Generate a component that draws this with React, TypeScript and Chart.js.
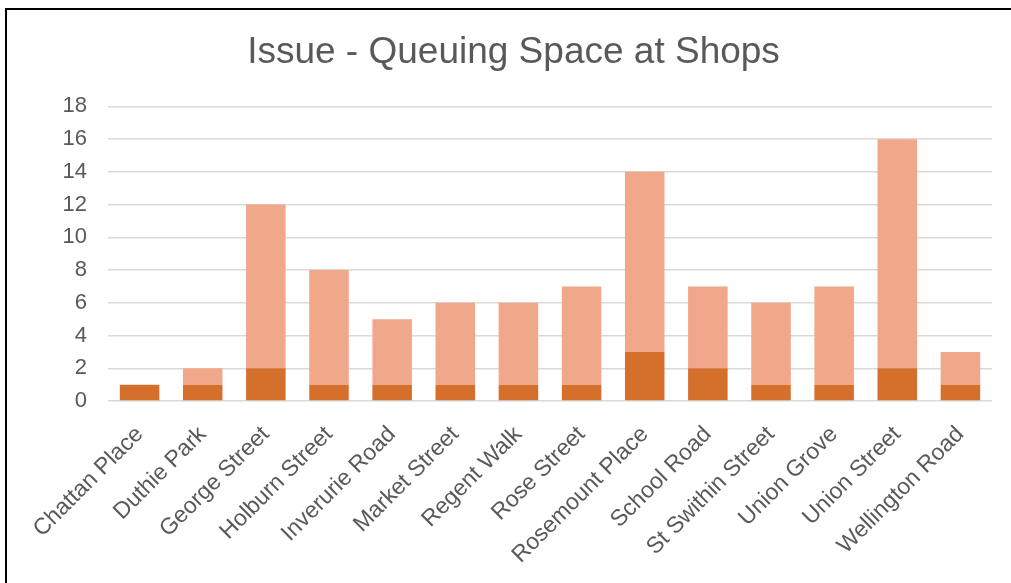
import React, { useEffect, useRef } from "react";
import { Chart, registerables } from "chart.js";

Chart.register(...registerables);

const categories = [
  "Chattan Place",
  "Duthie Park",
  "George Street",
  "Holburn Street",
  "Inverurie Road",
  "Market Street",
  "Regent Walk",
  "Rose Street",
  "Rosemount Place",
  "School Road",
  "St Swithin Street",
  "Union Grove",
  "Union Street",
  "Wellington Road",
];

const seriesDark = [1, 1, 2, 1, 1, 1, 1, 1, 3, 2, 1, 1, 2, 1];
const seriesLight = [0, 1, 10, 7, 4, 5, 5, 6, 11, 5, 5, 6, 14, 2];

const yTicks = [0, 2, 4, 6, 8, 10, 12, 14, 16, 18];

const FONT = "'Liberation Sans', Arial, sans-serif";
const TEXT = "#595959";

export default function App() {
  const ref = useRef<HTMLCanvasElement | null>(null);

  useEffect(() => {
    document.body.style.margin = "0";
    const ctx = ref.current;
    if (!ctx) return;
    const chart = new Chart(ctx, {
      type: "bar",
      data: {
        labels: categories,
        datasets: [
          {
            label: "Series 1",
            data: seriesDark,
            backgroundColor: "#D46F2C",
            barPercentage: 0.626,
            categoryPercentage: 1,
          },
          {
            label: "Series 2",
            data: seriesLight,
            backgroundColor: "#F1A78A",
            barPercentage: 0.626,
            categoryPercentage: 1,
          },
        ],
      },
      options: {
        responsive: false,
        animation: false,
        layout: { padding: { left: 35, right: 19, top: 0, bottom: 0 } },
        plugins: {
          legend: { display: false },
          tooltip: { enabled: false },
          title: {
            display: true,
            text: "Issue - Queuing Space at Shops",
            color: TEXT,
            font: { family: FONT, size: 37, weight: "normal", lineHeight: 1.2 },
            padding: { top: 31, bottom: 31 },
          },
        },
        scales: {
          x: {
            stacked: true,
            grid: { display: false, drawTicks: false },
            border: { display: false },
            ticks: {
              autoSkip: false,
              maxRotation: 45,
              minRotation: 45,
              padding: 20,
              color: TEXT,
              font: { family: FONT, size: 23 },
            },
            afterFit: (scale: any) => {
              scale.height = 182;
            },
          },
          y: {
            stacked: true,
            min: 0,
            max: 18,
            afterBuildTicks: (scale: any) => {
              scale.ticks = yTicks.map((v) => ({ value: v }));
            },
            grid: { color: "#D9D9D9", lineWidth: 1.5, drawTicks: false },
            border: { display: false },
            ticks: {
              padding: 21,
              color: TEXT,
              font: { family: FONT, size: 22 },
            },
            afterFit: (scale: any) => {
              scale.width = 73;
            },
          },
        },
      },
    });
    return () => chart.destroy();
  }, []);

  return (
    <div style={{ position: "relative", width: 1011, height: 583, background: "#fff", overflow: "hidden" }}>
      <canvas ref={ref} width={1011} height={583} style={{ position: "absolute", left: 0, top: 0 }} />
      <div
        style={{
          position: "absolute",
          left: 5,
          top: 8,
          width: 1011,
          height: 583,
          borderLeft: "2px solid #000",
          borderTop: "2px solid #000",
          pointerEvents: "none",
        }}
      />
    </div>
  );
}
